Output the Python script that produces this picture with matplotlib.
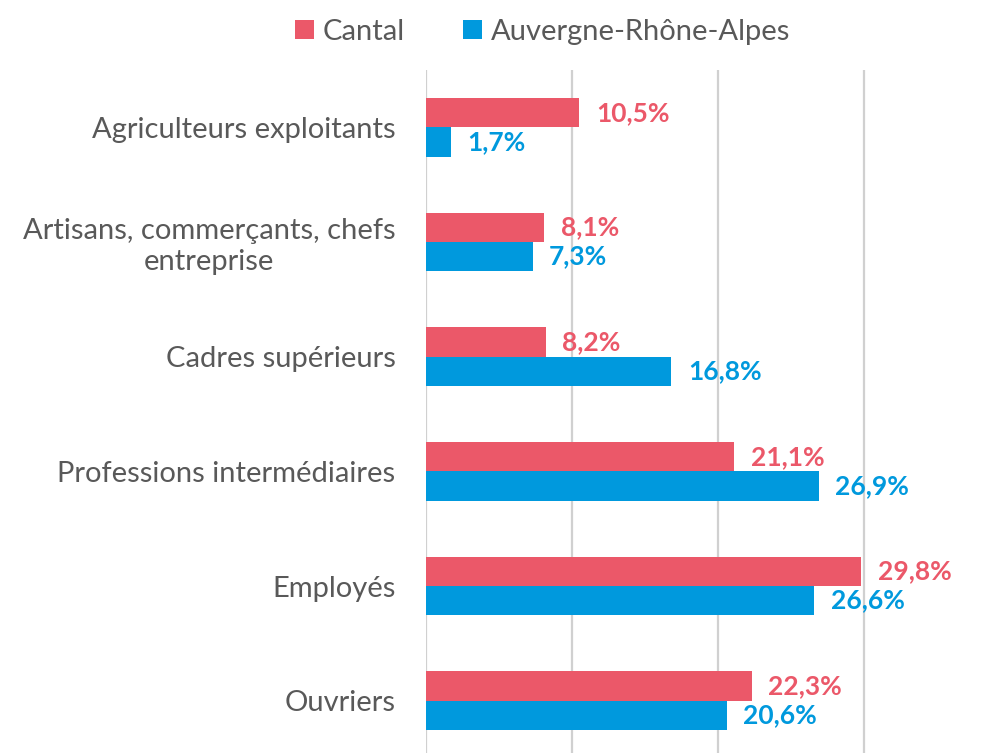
import matplotlib.pyplot as plt
import numpy as np

categories = ['Agriculteurs exploitants', 'Artisans, commerçants, chefs\nentreprise',
              'Cadres supérieurs', 'Professions intermédiaires', 'Employés', 'Ouvriers']
cantal = [10.5, 8.1, 8.2, 21.1, 29.8, 22.3]
ara = [1.7, 7.3, 16.8, 26.9, 26.6, 20.6]
series_names = ['Cantal', 'Auvergne-Rhône-Alpes']

RED = '#EB5869'
BLUE = '#0099DD'
GREY = '#595959'

plt.rcParams['font.family'] = ['Lato', 'DejaVu Sans']

fig = plt.figure(figsize=(9.96, 7.53), dpi=100)
ax = fig.add_axes([426 / 996, -5 / 753, (937 - 426) / 996, (758 - 70) / 753])

y = np.arange(len(categories))
h = 0.255
ax.barh(y - h / 2, cantal, height=h, color=RED, label=series_names[0], zorder=3)
ax.barh(y + h / 2, ara, height=h, color=BLUE, label=series_names[1], zorder=3)

for i in range(len(categories)):
    ax.annotate(f'{cantal[i]:.1f}%'.replace('.', ','), (cantal[i], y[i] - h / 2),
                xytext=(12, 0), textcoords='offset points', va='center', ha='left',
                color=RED, fontsize=19, fontweight='bold')
    ax.annotate(f'{ara[i]:.1f}%'.replace('.', ','), (ara[i], y[i] + h / 2),
                xytext=(12, 0), textcoords='offset points', va='center', ha='left',
                color=BLUE, fontsize=19, fontweight='bold')

ax.set_xlim(0, 35)
ax.set_ylim(len(categories) - 0.5, -0.5)
ax.set_xticks([0, 10, 20, 30])
ax.set_xticklabels([])
ax.tick_params(axis='x', length=0)
ax.grid(axis='x', color='#D0D0D0', linewidth=1.6, zorder=0)
ax.set_yticks(y)
ax.set_yticklabels(categories, fontsize=21, color=GREY, multialignment='center')
ax.tick_params(axis='y', length=0, pad=22)
for s in ax.spines.values():
    s.set_visible(False)

fig.legend(loc='upper center', bbox_to_anchor=(0.545, 1.01), ncol=2, frameon=False,
           fontsize=21, labelcolor=GREY, handlelength=0.65, handleheight=0.65,
           handletextpad=0.3, columnspacing=2.0)

fig.savefig('out.png', dpi=100)
